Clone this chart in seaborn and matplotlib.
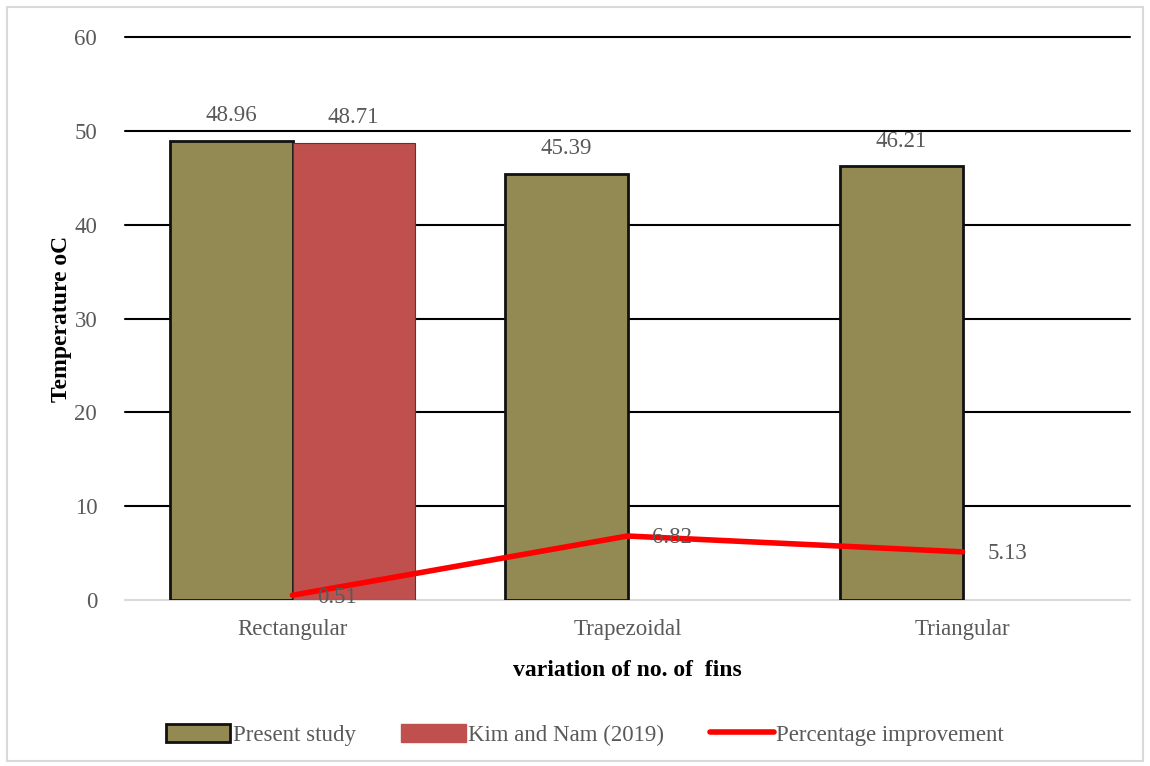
import numpy as np
import pandas as pd
import seaborn as sns
import matplotlib.pyplot as plt
from matplotlib.patches import Patch, Rectangle
from matplotlib.lines import Line2D

# data
shapes = ['Rectangular', 'Trapezoidal', 'Triangular']
present_study = [48.96, 45.39, 46.21]
kim_nam = [48.71, np.nan, np.nan]
improvement = [0.51, 6.82, 5.13]

series = ['Present study', 'Kim and Nam (2019)']
colors = ['#938953', '#C0504D']

df = pd.DataFrame({
    'shape': shapes * 2,
    'temp': present_study + kim_nam,
    'series': [series[0]] * 3 + [series[1]] * 3,
})

sns.set_style('white')
plt.rcParams['font.family'] = ['Liberation Serif', 'DejaVu Serif']
grey = '#595959'
fs = 16.5

fig = plt.figure(figsize=(11.5, 7.66), dpi=100)
ax = fig.add_axes([125 / 1150, 166 / 766, 1005 / 1150, 563 / 766])

sns.barplot(data=df, x='shape', y='temp', hue='series', hue_order=series,
            palette=colors, saturation=1, width=0.73, ax=ax, legend=False,
            zorder=3)

# edge styles: present study thick black, Kim thin grey
for bar_container, lw, ec in zip(ax.containers, [2.0, 0.8], ['#111111', '#404040']):
    for b in bar_container:
        b.set_edgecolor(ec)
        b.set_linewidth(lw)

# value labels on bars
for bar_container in ax.containers:
    for b in bar_container:
        h = b.get_height()
        if np.isnan(h):
            continue
        ax.text(b.get_x() + b.get_width() / 2, h + 2.7, f'{h:.2f}',
                ha='center', va='center', fontsize=fs, color=grey)

# percentage improvement line
sns.lineplot(x=[0, 1, 2], y=improvement, color='#FF0000', lw=4, ax=ax,
             zorder=5)
for i, v in enumerate(improvement):
    ax.text(i + 0.134, v - 0.2, f'{v:.2f}', ha='center', va='center',
            fontsize=fs, color=grey, zorder=6)

ax.set_ylim(0, 60)
ax.set_xlim(-0.5, 2.5)
ax.set_yticks(range(0, 61, 10))
ax.yaxis.grid(True, color='black', lw=1.5, zorder=0)
ax.xaxis.grid(False)
for gl in ax.get_ygridlines():
    gl.set_clip_on(False)
ax.yaxis.get_major_ticks()[0].gridline.set_color('#D9D9D9')
for s in ax.spines.values():
    s.set_visible(False)
ax.tick_params(axis='both', length=0, labelsize=fs, labelcolor=grey)
ax.tick_params(axis='x', pad=14)
ax.tick_params(axis='y', pad=20)

ax.set_xlabel('variation of no. of  fins', fontsize=17, fontweight='bold',
              color='black', labelpad=14)
ax.set_ylabel('Temperature oC', fontsize=17, fontweight='bold',
              color='black', labelpad=2)

handles = [
    Patch(facecolor=colors[0], edgecolor='#111111', lw=2),
    Patch(facecolor=colors[1], edgecolor=colors[1]),
    Line2D([0], [0], color='#FF0000', lw=4),
]
fig.legend(handles, series + ['Percentage improvement'], loc='center',
           bbox_to_anchor=(585 / 1150, 1 - 735 / 766), ncol=3, frameon=False,
           fontsize=fs, labelcolor=grey, handlelength=2.8, handleheight=0.8,
           handletextpad=0.1, columnspacing=2.0)

fig.patches.append(Rectangle((7 / 1150, 5 / 766), 1 - 14 / 1150, 1 - 12 / 766,
                             transform=fig.transFigure, fill=False,
                             edgecolor='#D9D9D9', lw=1.5))

fig.savefig('out.png', dpi=100, facecolor='white')
